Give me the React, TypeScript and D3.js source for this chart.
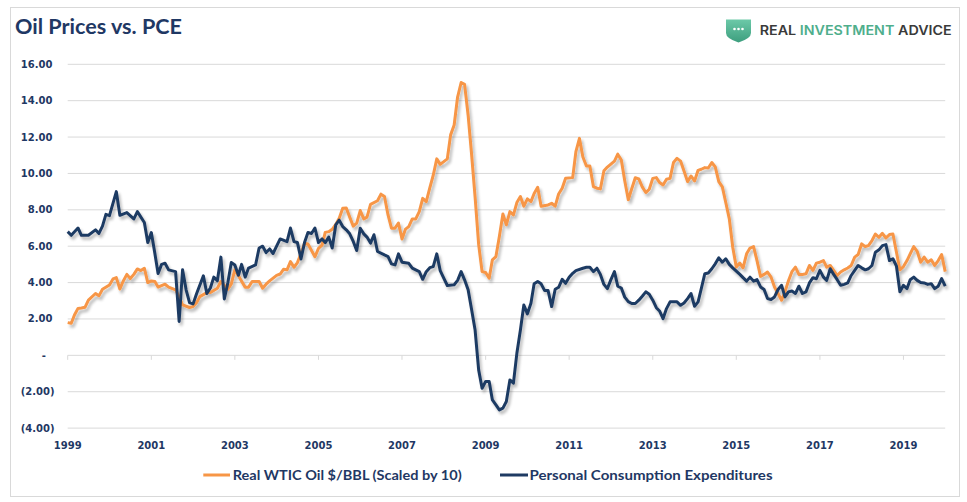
import React from "react";
import * as d3 from "d3";

// ---- DATA ----
const oilSeries: [string, number][] = [
  ["1999-01", 1.8], ["1999-02", 1.76], ["1999-03", 2.22], ["1999-04", 2.58], ["1999-05", 2.6], ["1999-06", 2.64], ["1999-07", 3.04], ["1999-09", 3.4], ["1999-10", 3.27], ["1999-11", 3.63],
  ["2000-01", 3.87], ["2000-02", 4.2], ["2000-03", 4.27], ["2000-04", 3.65], ["2000-05", 4.09], ["2000-06", 4.45], ["2000-07", 4.22], ["2000-08", 4.45], ["2000-09", 4.75], ["2000-10", 4.66], ["2000-11", 4.79], ["2000-12", 4.0],
  ["2001-01", 4.09], ["2001-02", 4.06], ["2001-03", 3.75], ["2001-05", 3.91], ["2001-06", 3.75], ["2001-08", 3.6], ["2001-09", 3.23], ["2001-10", 2.77], ["2001-12", 2.63],
  ["2002-01", 2.68], ["2002-02", 2.9], ["2002-03", 3.23], ["2002-05", 3.45], ["2002-06", 3.45], ["2002-08", 3.69], ["2002-09", 4.06], ["2002-11", 3.63], ["2002-12", 3.93],
  ["2003-01", 4.7], ["2003-02", 4.37], ["2003-04", 3.75], ["2003-05", 3.75], ["2003-06", 4.06], ["2003-08", 4.06], ["2003-09", 3.69], ["2003-10", 3.91], ["2003-11", 4.09],
  ["2004-01", 4.4], ["2004-02", 4.47], ["2004-03", 4.73], ["2004-04", 4.7], ["2004-05", 5.15], ["2004-06", 4.84], ["2004-07", 5.1], ["2004-08", 5.6], ["2004-09", 6.16], ["2004-10", 6.12], ["2004-12", 5.42],
  ["2005-01", 5.88], ["2005-02", 6.06], ["2005-03", 6.76], ["2005-04", 6.8], ["2005-05", 6.93], ["2005-06", 7.2], ["2005-07", 7.54], ["2005-08", 8.08], ["2005-09", 8.1], ["2005-10", 7.6], ["2005-11", 7.1], ["2005-12", 7.27],
  ["2006-01", 7.96], ["2006-02", 7.5], ["2006-03", 7.6], ["2006-04", 8.3], ["2006-06", 8.5], ["2006-07", 8.86], ["2006-08", 8.73], ["2006-09", 7.72], ["2006-10", 6.99], ["2006-11", 6.99], ["2006-12", 7.27],
  ["2007-01", 6.4], ["2007-02", 6.94], ["2007-03", 7.08], ["2007-04", 7.5], ["2007-05", 7.5], ["2007-06", 7.9], ["2007-07", 8.63], ["2007-08", 8.45], ["2007-09", 9.2], ["2007-10", 9.9], ["2007-11", 10.8], ["2007-12", 10.5],
  ["2008-02", 10.8], ["2008-03", 12.12], ["2008-04", 12.66], ["2008-05", 14.2], ["2008-06", 15.0], ["2008-07", 14.9], ["2008-08", 13.2], ["2008-09", 11.0], ["2008-10", 8.7], ["2008-11", 6.1], ["2008-12", 4.6],
  ["2009-01", 4.55], ["2009-02", 4.24], ["2009-03", 5.25], ["2009-04", 5.43], ["2009-05", 6.53], ["2009-06", 7.77], ["2009-07", 7.17], ["2009-08", 7.9], ["2009-09", 7.72], ["2009-10", 8.4], ["2009-11", 8.73], ["2009-12", 8.2],
  ["2010-01", 8.6], ["2010-02", 8.45], ["2010-03", 8.9], ["2010-04", 9.24], ["2010-05", 8.2], ["2010-07", 8.27], ["2010-08", 8.36], ["2010-09", 8.2], ["2010-10", 8.87], ["2010-11", 9.19], ["2010-12", 9.74],
  ["2011-02", 9.77], ["2011-03", 11.2], ["2011-04", 11.93], ["2011-05", 10.9], ["2011-06", 10.41], ["2011-07", 10.41], ["2011-08", 9.28], ["2011-09", 9.19], ["2011-10", 9.15], ["2011-11", 10.15], ["2011-12", 10.35],
  ["2012-02", 10.68], ["2012-03", 11.06], ["2012-04", 10.74], ["2012-05", 9.6], ["2012-06", 8.55], ["2012-07", 9.16], ["2012-08", 9.76], ["2012-09", 9.7], ["2012-10", 9.26], ["2012-11", 8.95], ["2012-12", 9.13],
  ["2013-01", 9.73], ["2013-02", 9.77], ["2013-03", 9.5], ["2013-04", 9.37], ["2013-05", 9.68], ["2013-06", 9.73], ["2013-07", 10.6], ["2013-08", 10.83], ["2013-09", 10.68], ["2013-10", 10.13], ["2013-11", 9.55], ["2013-12", 9.86],
  ["2014-01", 9.59], ["2014-02", 10.17], ["2014-03", 10.23], ["2014-04", 10.32], ["2014-05", 10.3], ["2014-06", 10.6], ["2014-07", 10.36], ["2014-08", 9.55], ["2014-09", 9.26], ["2014-10", 8.4], ["2014-11", 7.5], ["2014-12", 5.94],
  ["2015-01", 4.85], ["2015-02", 5.07], ["2015-03", 4.81], ["2015-04", 5.58], ["2015-05", 5.9], ["2015-06", 5.98], ["2015-07", 5.21], ["2015-08", 4.34], ["2015-09", 4.45], ["2015-10", 4.58], ["2015-11", 4.3], ["2015-12", 3.76],
  ["2016-01", 3.4], ["2016-02", 3.03], ["2016-03", 3.49], ["2016-04", 4.1], ["2016-05", 4.6], ["2016-06", 4.85], ["2016-07", 4.45], ["2016-08", 4.45], ["2016-09", 4.48], ["2016-10", 4.94], ["2016-11", 4.67], ["2016-12", 5.07],
  ["2017-01", 5.12], ["2017-02", 5.21], ["2017-03", 4.85], ["2017-04", 4.94], ["2017-05", 4.67], ["2017-06", 4.39], ["2017-07", 4.58], ["2017-08", 4.7], ["2017-09", 4.8], ["2017-10", 4.94], ["2017-11", 5.4], ["2017-12", 5.54],
  ["2018-01", 6.13], ["2018-02", 5.98], ["2018-03", 6.03], ["2018-04", 6.31], ["2018-05", 6.67], ["2018-06", 6.49], ["2018-07", 6.71], ["2018-08", 6.45], ["2018-09", 6.64], ["2018-10", 6.67], ["2018-11", 5.67], ["2018-12", 4.7],
  ["2019-01", 4.88], ["2019-02", 5.21], ["2019-03", 5.58], ["2019-04", 5.98], ["2019-05", 5.72], ["2019-06", 5.12], ["2019-07", 5.4], ["2019-08", 5.12], ["2019-09", 5.25], ["2019-10", 4.94], ["2019-11", 5.21], ["2019-12", 5.54],
  ["2020-01", 4.6],
];

const pceSeries: [string, number][] = [
  ["1999-01", 6.8], ["1999-02", 6.6], ["1999-04", 7.0], ["1999-05", 6.6], ["1999-07", 6.6], ["1999-09", 6.9], ["1999-10", 6.7], ["1999-11", 7.1], ["1999-12", 7.75],
  ["2000-01", 7.68], ["2000-03", 9.0], ["2000-04", 7.7], ["2000-06", 7.85], ["2000-08", 7.5], ["2000-09", 7.9], ["2000-11", 7.3], ["2000-12", 6.2],
  ["2001-01", 6.75], ["2001-02", 5.6], ["2001-03", 4.5], ["2001-04", 5.0], ["2001-05", 5.06], ["2001-06", 4.7], ["2001-08", 4.6], ["2001-09", 1.86], ["2001-10", 4.7], ["2001-11", 3.6], ["2001-12", 2.9],
  ["2002-01", 2.83], ["2002-02", 3.4], ["2002-04", 4.37], ["2002-05", 3.4], ["2002-06", 3.7], ["2002-07", 4.3], ["2002-08", 4.1], ["2002-09", 5.4], ["2002-10", 3.1], ["2002-11", 4.0], ["2002-12", 5.1],
  ["2003-01", 4.97], ["2003-02", 4.4], ["2003-03", 5.0], ["2003-04", 4.3], ["2003-05", 4.8], ["2003-07", 4.97], ["2003-08", 5.9], ["2003-09", 6.0], ["2003-10", 5.65], ["2003-11", 5.85], ["2003-12", 5.6],
  ["2004-01", 6.0], ["2004-02", 6.4], ["2004-04", 6.25], ["2004-05", 7.0], ["2004-06", 6.25], ["2004-07", 6.2], ["2004-08", 5.3], ["2004-09", 6.2], ["2004-10", 6.75], ["2004-11", 6.7], ["2004-12", 7.0],
  ["2005-01", 6.2], ["2005-02", 6.4], ["2005-03", 6.2], ["2005-04", 6.5], ["2005-05", 5.9], ["2005-06", 7.17], ["2005-07", 7.43], ["2005-08", 7.08], ["2005-09", 6.9], ["2005-10", 6.68], ["2005-11", 6.26], ["2005-12", 5.76],
  ["2006-01", 6.99], ["2006-02", 6.68], ["2006-03", 6.5], ["2006-04", 6.17], ["2006-05", 6.63], ["2006-06", 5.71], ["2006-08", 5.52], ["2006-09", 5.43], ["2006-10", 5.03], ["2006-11", 4.97], ["2006-12", 5.58],
  ["2007-01", 5.12], ["2007-03", 5.06], ["2007-04", 4.79], ["2007-06", 4.6], ["2007-07", 4.18], ["2007-08", 4.6], ["2007-09", 4.82], ["2007-10", 4.88], ["2007-11", 5.58], ["2007-12", 4.66],
  ["2008-01", 4.24], ["2008-02", 3.84], ["2008-04", 3.88], ["2008-05", 4.12], ["2008-06", 4.6], ["2008-07", 4.15], ["2008-08", 3.6], ["2008-09", 2.49], ["2008-10", 1.39], ["2008-11", -0.8], ["2008-12", -1.81],
  ["2009-01", -1.44], ["2009-02", -1.44], ["2009-03", -2.45], ["2009-04", -2.72], ["2009-05", -3.0], ["2009-06", -2.9], ["2009-07", -2.54], ["2009-08", -1.35], ["2009-09", -1.53], ["2009-10", 0.11], ["2009-11", 1.39], ["2009-12", 2.77],
  ["2010-01", 2.28], ["2010-02", 2.86], ["2010-03", 3.93], ["2010-04", 4.06], ["2010-05", 3.93], ["2010-06", 3.56], ["2010-07", 3.56], ["2010-08", 2.68], ["2010-09", 3.63], ["2010-10", 3.74], ["2010-11", 4.18], ["2010-12", 3.96],
  ["2011-01", 4.29], ["2011-02", 4.51], ["2011-03", 4.66], ["2011-05", 4.79], ["2011-06", 4.84], ["2011-07", 4.84], ["2011-08", 4.6], ["2011-09", 4.79], ["2011-10", 4.45], ["2011-11", 3.9], ["2011-12", 3.67],
  ["2012-01", 4.16], ["2012-02", 4.6], ["2012-03", 3.8], ["2012-04", 3.7], ["2012-05", 3.2], ["2012-06", 2.95], ["2012-07", 2.85], ["2012-08", 2.85], ["2012-09", 3.03], ["2012-10", 3.25], ["2012-11", 3.49], ["2012-12", 3.36],
  ["2013-01", 3.03], ["2013-02", 2.62], ["2013-03", 2.44], ["2013-04", 2.02], ["2013-05", 2.57], ["2013-06", 2.94], ["2013-07", 2.94], ["2013-08", 2.94], ["2013-09", 2.75], ["2013-10", 2.88], ["2013-11", 3.12], ["2013-12", 3.4],
  ["2014-01", 2.7], ["2014-02", 2.94], ["2014-03", 3.67], ["2014-04", 4.49], ["2014-05", 4.53], ["2014-06", 4.76], ["2014-07", 5.03], ["2014-08", 5.36], ["2014-09", 5.12], ["2014-10", 5.31], ["2014-11", 5.0], ["2014-12", 4.81],
  ["2015-01", 4.63], ["2015-02", 4.45], ["2015-03", 4.27], ["2015-04", 4.08], ["2015-05", 4.3], ["2015-06", 4.08], ["2015-07", 4.16], ["2015-08", 3.76], ["2015-09", 3.62], ["2015-10", 3.12], ["2015-11", 3.07], ["2015-12", 3.21],
  ["2016-01", 3.62], ["2016-02", 3.85], ["2016-03", 3.21], ["2016-04", 3.49], ["2016-05", 3.54], ["2016-06", 3.4], ["2016-07", 3.8], ["2016-08", 3.4], ["2016-09", 3.49], ["2016-10", 3.98], ["2016-11", 4.27], ["2016-12", 4.21],
  ["2017-01", 4.67], ["2017-02", 4.3], ["2017-03", 4.12], ["2017-04", 4.76], ["2017-05", 4.45], ["2017-06", 4.16], ["2017-07", 3.85], ["2017-08", 3.9], ["2017-09", 3.98], ["2017-10", 4.39], ["2017-11", 4.67], ["2017-12", 4.94],
  ["2018-01", 4.81], ["2018-02", 4.7], ["2018-03", 4.76], ["2018-04", 4.94], ["2018-05", 5.67], ["2018-06", 5.8], ["2018-07", 6.03], ["2018-08", 6.09], ["2018-09", 5.21], ["2018-10", 5.31], ["2018-11", 4.9], ["2018-12", 3.5],
  ["2019-01", 3.85], ["2019-02", 3.67], ["2019-03", 4.16], ["2019-04", 4.3], ["2019-05", 4.12], ["2019-06", 4.0], ["2019-07", 3.98], ["2019-08", 3.9], ["2019-09", 3.94], ["2019-10", 3.67], ["2019-11", 3.8], ["2019-12", 4.22],
  ["2020-01", 3.8],
];

const yTickValues = [16, 14, 12, 10, 8, 6, 4, 2, 0, -2, -4];
const xTickYears = [1999, 2001, 2003, 2005, 2007, 2009, 2011, 2013, 2015, 2017, 2019];
const seriesNames = ["Real WTIC Oil $/BBL (Scaled by 10)", "Personal Consumption Expenditures"];
const titleText = "Oil Prices vs. PCE";

const W = 967;
const H = 502;
const NAVY = "#1f3b63";
const ORANGE = "#f79646";
const GRID = "#d9d9d9";
const LABEL = "#1f3864";

const parseMonth = d3.timeParse("%Y-%m");

function fmtY(v: number): string {
  if (v === 0) return "-";
  if (v < 0) return `(${Math.abs(v).toFixed(2)})`;
  return v.toFixed(2);
}

export default function App() {
  const x = d3
    .scaleTime()
    .domain([new Date(1999, 0, 1), new Date(2020, 0, 1)])
    .range([67.7, 945.2]);
  const y = d3.scaleLinear().domain([-4, 16]).range([428.1, 64.3]);

  const line = d3
    .line<[string, number]>()
    .x((d) => x(parseMonth(d[0]) as Date))
    .y((d) => y(d[1]));

  const [x0, x1] = x.range();

  return (
    <svg
      width={W}
      height={H}
      viewBox={`0 0 ${W} ${H}`}
      style={{ position: "absolute", left: 0, top: 0, background: "#fff" }}
    >
      <defs>
        <filter id="shadow" x="-5%" y="-10%" width="115%" height="125%">
          <feGaussianBlur in="SourceAlpha" stdDeviation="1.6" />
          <feOffset dx="2" dy="2.5" result="off" />
          <feComponentTransfer>
            <feFuncA type="linear" slope="0.28" />
          </feComponentTransfer>
          <feMerge>
            <feMergeNode />
            <feMergeNode in="SourceGraphic" />
          </feMerge>
        </filter>
        <linearGradient id="shieldGrad" x1="0" y1="0" x2="0" y2="1">
          <stop offset="0%" stopColor="#6cc9a8" />
          <stop offset="100%" stopColor="#3d9e7e" />
        </linearGradient>
      </defs>

      <rect x={0} y={0} width={W} height={H} fill="#fff" />
      <rect x={10.5} y={7.5} width={949} height={489} fill="none" stroke={GRID} strokeWidth={1} />

      {/* title */}
      <text
        x={15}
        y={33.5}
        fontFamily="Lato, 'Open Sans', sans-serif"
        fontWeight={700}
        fontSize={21}
        fill={LABEL}
        textLength={167}
        lengthAdjust="spacingAndGlyphs"
      >
        {titleText}
      </text>

      {/* logo */}
      <g>
        <path
          d="M726,19.5 L751,19.5 L751,33 Q751,38.5 738.5,42.5 Q726,38.5 726,33 Z"
          fill="url(#shieldGrad)"
        />
        <circle cx={734.5} cy={29} r={1.3} fill="#fff" />
        <circle cx={738.5} cy={29} r={1.3} fill="#fff" />
        <circle cx={742.5} cy={29} r={1.3} fill="#fff" />
        <text
          x={759.7}
          y={34.7}
          fontFamily="Inter, 'Open Sans', sans-serif"
          fontWeight={600}
          fontSize={12.6}
          textLength={192}
          lengthAdjust="spacingAndGlyphs"
        >
          <tspan fill="#3a3a3a">REAL </tspan>
          <tspan fill="#4fae8c">INVESTMENT</tspan>
          <tspan fill="#3a3a3a"> ADVICE</tspan>
        </text>
      </g>

      {/* gridlines */}
      {yTickValues.map((v) => (
        <line key={`g${v}`} x1={x0} x2={x1} y1={y(v)} y2={y(v)} stroke={GRID} strokeWidth={1} />
      ))}

      {/* ticks on zero axis */}
      {xTickYears.map((yr) => {
        const xx = x(new Date(yr, 0, 1));
        return <line key={`t${yr}`} x1={xx} x2={xx} y1={y(0)} y2={y(0) + 4.5} stroke={GRID} strokeWidth={1} />;
      })}

      {/* y labels */}
      {yTickValues.map((v) => (
        <text
          key={`yl${v}`}
          x={v === 0 ? 46 : v < 0 ? 54.5 : 52.5}
          y={y(v)}
          dy="0.35em"
          textAnchor="end"
          fontFamily="'DejaVu Sans', Verdana, sans-serif"
          fontWeight={700}
          fontSize={10}
          fill={LABEL}
        >
          {fmtY(v)}
        </text>
      ))}

      {/* x labels */}
      {xTickYears.map((yr) => (
        <text
          key={`xl${yr}`}
          x={x(new Date(yr, 0, 1))}
          y={449.3}
          textAnchor="middle"
          fontFamily="'DejaVu Sans', Verdana, sans-serif"
          fontWeight={700}
          fontSize={10}
          fill={LABEL}
        >
          {yr}
        </text>
      ))}

      {/* series */}
      <g filter="url(#shadow)">
        <path d={line(oilSeries) || ""} fill="none" stroke={ORANGE} strokeWidth={3} strokeLinejoin="round" />
        <path d={line(pceSeries) || ""} fill="none" stroke={NAVY} strokeWidth={3} strokeLinejoin="round" />
      </g>

      {/* legend */}
      <g>
        <line x1={203.3} x2={230} y1={475} y2={475} stroke={ORANGE} strokeWidth={3} />
        <text
          x={232.7}
          y={479.5}
          fontFamily="Lato, 'Open Sans', sans-serif"
          fontWeight={700}
          fontSize={12.5}
          fill={LABEL}
          textLength={229}
          lengthAdjust="spacingAndGlyphs"
        >
          {seriesNames[0]}
        </text>
        <line x1={500} x2={528} y1={475} y2={475} stroke={NAVY} strokeWidth={3} />
        <text
          x={529.5}
          y={479.5}
          fontFamily="Lato, 'Open Sans', sans-serif"
          fontWeight={700}
          fontSize={12.5}
          fill={LABEL}
          textLength={243}
          lengthAdjust="spacingAndGlyphs"
        >
          {seriesNames[1]}
        </text>
      </g>
    </svg>
  );
}
